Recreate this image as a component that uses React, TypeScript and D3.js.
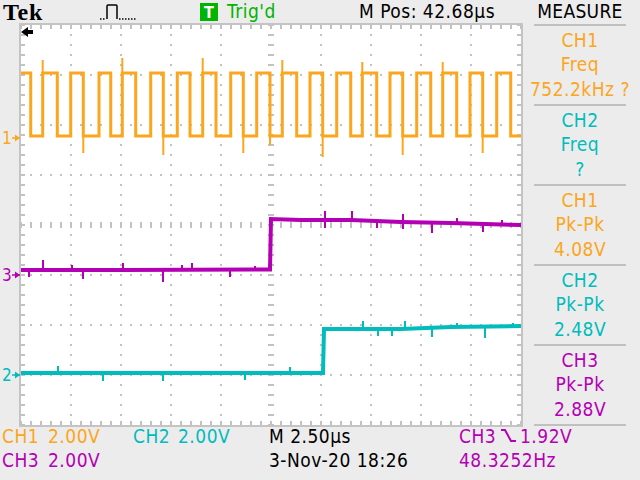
import React from 'react';
import * as d3 from 'd3';

// ---- data (time in µs from left edge of screen, voltages in V) ----
const timeSpan = [0, 25];
const voltsPerDiv = 2;
const ch1Pos = 1.74;
const ch2Pos = -3.0;
const ch3Pos = -1.0;

const ch1High = 2.6;
const ch1Low = 0.08;
// edge times; the trace starts high and each edge toggles the level
const ch1Edges = [0.485, 1.085, 1.815, 2.485, 3.115, 3.9, 4.485, 5.065, 5.735, 6.485, 7.115, 7.815,
  8.45, 9.085, 9.75, 10.485, 11.115, 11.785, 12.45, 13.065, 13.785, 14.45, 15.085, 15.785,
  16.485, 17.065, 17.785, 18.45, 19.085, 19.785, 20.485, 21.085, 21.785, 22.45, 23.085, 23.785, 24.485];
const ch1SpikeTimes = [1.085, 3.115, 5.065, 7.115, 9.085, 11.115, 12.45, 13.065, 15.085, 17.065, 19.085, 21.085, 23.085];
const ch1SpikeValues = [3.12, -0.6, 3.2, -0.68, 3.2, -0.6, -0.28, 3.12, -0.76, 3.04, -0.68, 3.04, -0.6];

const ch3Times = [0, 5, 12.45, 12.5, 14, 16.5, 19, 21.5, 25];
const ch3Values = [0.2, 0.2, 0.22, 2.24, 2.2, 2.2, 2.12, 2.08, 2.0];
const ch3GlitchTimes = [0.4, 1.1, 2.55, 3.1, 5.1, 7.1, 8.05, 8.55, 10.45, 11.7, 15.2, 15.2, 16.55, 17.8, 19.1, 19.1, 20.55, 21.8, 23.1, 24.05];
const ch3GlitchValues = [-0.08, 0.6, 0.4, -0.16, 0.48, -0.28, 0.4, 0.48, -0.08, 0.36, 2.56, 1.88, 2.56, 1.88, 2.44, 1.84, 1.68, 2.28, 1.72, 2.2];

const ch2Times = [0, 15.1, 15.15, 19, 21.5, 25];
const ch2Values = [0.08, 0.08, 1.84, 1.84, 1.92, 1.96];
const ch2GlitchTimes = [1.85, 4.1, 7.1, 11.2, 13.45, 17.1, 17.85, 18.55, 19.2, 20.55, 21.8, 23.2, 24.6];
const ch2GlitchValues = [0.36, -0.24, -0.24, -0.2, 0.32, 2.16, 1.56, 1.56, 2.16, 1.52, 2.08, 1.48, 2.08];

const measureChannels = ['CH1', 'CH2', 'CH1', 'CH2', 'CH3'];
const measureTypes = ['Freq', 'Freq', 'Pk-Pk', 'Pk-Pk', 'Pk-Pk'];
const measureValues = ['752.2kHz ?', '?', '4.08V', '2.48V', '2.88V'];

const ORANGE = '#fba61c';
const CYAN = '#00bcbc';
const MAGENTA = '#b400b4';
const GREEN = '#00b400';
const GRID = '#c2c2c2';
const BG = '#ececec';
const FONT = "'Liberation Sans Narrow', 'DejaVu Sans Condensed', 'Arial Narrow', sans-serif";

const colorOf = (ch: string) => (ch === 'CH1' ? ORANGE : ch === 'CH2' ? CYAN : MAGENTA);

export default function App() {
  const x = d3.scaleLinear().domain(timeSpan).range([21, 521]);
  const yDiv = d3.scaleLinear().domain([-4, 4]).range([425, 25]);
  const yv = (v: number, pos: number) => yDiv(v / voltsPerDiv + pos);

  // CH1 square wave
  const ch1Pts: [number, number][] = [[0, ch1High]];
  let lvl = ch1High;
  ch1Edges.forEach((e) => {
    lvl = lvl === ch1High ? ch1Low : ch1High;
    ch1Pts.push([e, lvl]);
  });
  ch1Pts.push([timeSpan[1], lvl]);
  const stepLine = d3.line<[number, number]>()
    .x((d) => x(d[0]))
    .y((d) => yv(d[1], ch1Pos))
    .curve(d3.curveStepAfter);

  const lineFor = (pos: number) => d3.line<[number, number]>()
    .x((d) => x(d[0]))
    .y((d) => yv(d[1], pos));
  const ch3Pts = ch3Times.map((t, i) => [t, ch3Values[i]] as [number, number]);
  const ch2Pts = ch2Times.map((t, i) => [t, ch2Values[i]] as [number, number]);
  const interp = (times: number[], vals: number[], t: number) => {
    for (let i = 0; i < times.length - 1; i++) {
      if (t >= times[i] && t <= times[i + 1]) {
        const f = (t - times[i]) / (times[i + 1] - times[i] || 1);
        return vals[i] + f * (vals[i + 1] - vals[i]);
      }
    }
    return vals[vals.length - 1];
  };

  // graticule elements
  const left = 21, right = 521, top = 25, bottom = 425;
  const minorX = d3.range(left, right + 1, 10);
  const minorY = d3.range(top, bottom + 1, 10);
  const majorX = d3.range(1, 10).filter((i) => i !== 5).map((i) => left + i * 50);
  const majorY = d3.range(1, 8).filter((i) => i !== 4).map((i) => top + i * 50);

  const boxLines = [25, 105, 185, 265, 345, 425];

  return (
    <svg width={640} height={480} style={{ position: 'fixed', left: 0, top: 0 }} fontFamily={FONT}>
      <rect x={0} y={0} width={640} height={480} fill={BG} />
      <rect x={left} y={top} width={right - left} height={bottom - top} fill="#ffffff" />

      {/* dotted grid */}
      {majorX.map((gx) => minorY.map((gy) => (
        <rect key={`vx${gx}-${gy}`} x={gx - 1} y={gy - 1} width={2} height={2} fill={GRID} />
      )))}
      {majorY.map((gy) => minorX.map((gx) => (
        <rect key={`hy${gy}-${gx}`} x={gx - 1} y={gy - 1} width={2} height={2} fill={GRID} />
      )))}
      {/* center lines with minor ticks */}
      {minorY.map((gy) => (
        <rect key={`cv${gy}`} x={268} y={gy - 1} width={6} height={2} fill={GRID} />
      ))}
      {minorX.map((gx) => (
        <rect key={`ch${gx}`} x={gx - 1} y={222} width={2} height={6} fill={GRID} />
      ))}
      {/* border with ticks */}
      <rect x={left - 1} y={top - 1} width={right - left + 2} height={bottom - top + 2} fill="none" stroke="#c4c4c4" strokeWidth={2} />
      {minorY.map((gy) => (
        <g key={`by${gy}`}>
          <rect x={left} y={gy - 1} width={4} height={2} fill={GRID} />
          <rect x={right - 4} y={gy - 1} width={4} height={2} fill={GRID} />
        </g>
      ))}
      {minorX.map((gx) => (
        <g key={`bx${gx}`}>
          <rect x={gx - 1} y={top} width={2} height={4} fill={GRID} />
          <rect x={gx - 1} y={bottom - 4} width={2} height={4} fill={GRID} />
        </g>
      ))}

      {/* traces */}
      <path d={lineFor(ch3Pos)(ch3Pts) || ''} fill="none" stroke={MAGENTA} strokeWidth={4} />
      {ch3GlitchTimes.map((t, i) => (
        <line key={`g3${i}`} x1={x(t)} x2={x(t)} y1={yv(interp(ch3Times, ch3Values, t), ch3Pos)} y2={yv(ch3GlitchValues[i], ch3Pos)} stroke={MAGENTA} strokeWidth={2} />
      ))}
      <path d={lineFor(ch2Pos)(ch2Pts) || ''} fill="none" stroke={CYAN} strokeWidth={4} />
      {ch2GlitchTimes.map((t, i) => (
        <line key={`g2${i}`} x1={x(t)} x2={x(t)} y1={yv(interp(ch2Times, ch2Values, t), ch2Pos)} y2={yv(ch2GlitchValues[i], ch2Pos)} stroke={CYAN} strokeWidth={2} />
      ))}
      <path d={stepLine(ch1Pts) || ''} fill="none" stroke={ORANGE} strokeWidth={3} />
      {ch1SpikeTimes.map((t, i) => (
        <line key={`s1${i}`} x1={x(t)} x2={x(t)} y1={yv(ch1SpikeValues[i] > 1 ? ch1High : ch1Low, ch1Pos)} y2={yv(ch1SpikeValues[i], ch1Pos)} stroke={ORANGE} strokeWidth={2} />
      ))}

      {/* channel ground markers */}
      {[
        ['1', ch1Pos, ORANGE],
        ['3', ch3Pos, MAGENTA],
        ['2', ch2Pos, CYAN],
      ].map(([lab, pos, col]) => {
        const gy = yDiv(pos as number);
        return (
          <g key={`m${lab}`} fill={col as string} stroke={col as string}>
            <text x={2} y={gy + 6} fontSize={17} stroke="none">{lab as string}</text>
            <line x1={12} x2={20} y1={gy} y2={gy} strokeWidth={1.5} />
            <path d={`M15,${gy - 3.5} L20,${gy} L15,${gy + 3.5} Z`} stroke="none" />
          </g>
        );
      })}

      {/* trigger position arrow */}
      <path d="M21,32 L28,27 L28,30 L33,30 L33,34 L28,34 L28,37 Z" fill="#000" />

      {/* header */}
      <text x={3} y={20} fontFamily="'Liberation Serif', 'DejaVu Serif', serif" fontWeight="bold" fontSize={24} letterSpacing={0.8} fill="#000">Tek</text>
      <g stroke="#000" fill="none" strokeWidth={1.5}>
        <path d="M100,19 H106" strokeDasharray="1.5,1.5" />
        <path d="M107,19 V6 Q107,5 108,5 H116 Q117,5 117,6 V19" />
        <path d="M119,19 H136" strokeDasharray="1.5,1.5" />
      </g>
      <rect x={200} y={3} width={18} height={18} fill={GREEN} />
      <text x={209} y={18} fontSize={16} fill="#fff" textAnchor="middle" fontWeight="bold">T</text>
      <text x={227} y={18} fontSize={19} fill={GREEN} letterSpacing={0.5}>Trig'd</text>
      <text x={359} y={18} fontSize={19} fill="#000" letterSpacing={0.5}>M Pos: 42.68µs</text>
      <text x={580} y={18} fontSize={19} fill="#000" textAnchor="middle" letterSpacing={0.3}>MEASURE</text>

      {/* measure panel */}
      {boxLines.map((by) => (
        <rect key={`bl${by}`} x={534} y={by - 1} width={92} height={2} fill="#c0c0c0" />
      ))}
      {measureChannels.map((ch, i) => {
        const base = 25 + i * 80;
        const col = colorOf(ch);
        return (
          <g key={`mb${i}`} fill={col} fontSize={19} textAnchor="middle" letterSpacing={0.5}>
            <text x={580} y={base + 22}>{ch}</text>
            <text x={580} y={base + 46}>{measureTypes[i]}</text>
            <text x={580} y={base + 71}>{measureValues[i]}</text>
          </g>
        );
      })}

      {/* bottom status */}
      <g fontSize={19} letterSpacing={0.5}>
        <text x={2} y={443} fill={ORANGE}>CH1</text>
        <text x={48} y={443} fill={ORANGE}>2.00V</text>
        <text x={133} y={443} fill={CYAN}>CH2</text>
        <text x={178} y={443} fill={CYAN}>2.00V</text>
        <text x={2} y={467} fill={MAGENTA}>CH3</text>
        <text x={48} y={467} fill={MAGENTA}>2.00V</text>
        <text x={269} y={443} fill="#000">M 2.50µs</text>
        <text x={269} y={467} fill="#000">3-Nov-20 18:26</text>
        <text x={459} y={443} fill={MAGENTA}>CH3</text>
        <path d="M501,430 H505 L511,441 H516" stroke={MAGENTA} strokeWidth={2} fill="none" />
        <text x={520} y={443} fill={MAGENTA}>1.92V</text>
        <text x={459} y={467} fill={MAGENTA}>48.3252Hz</text>
      </g>
    </svg>
  );
}
